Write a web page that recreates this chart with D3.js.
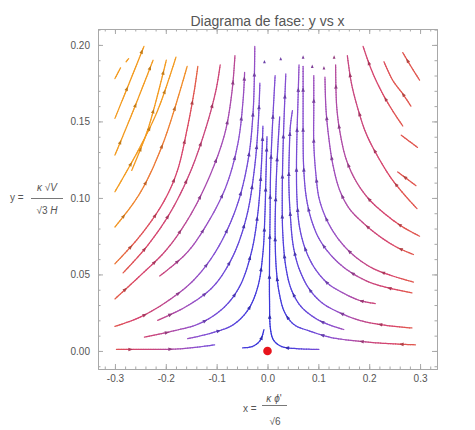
<!DOCTYPE html>
<html>
<head>
<meta charset="utf-8">
<script src="https://cdn.jsdelivr.net/npm/d3@7"></script>
<style>
  body { margin: 0; background: #fff; }
  text { font-family: "Liberation Sans", Arial, sans-serif; }
</style>
</head>
<body>
<div id="chart-area"></div>
<script>
// streamlines, [x, y] in data units, listed in flow direction
const leftLines = [
    [[-0.300, 0.178], [-0.289, 0.185]],
    [[-0.278, 0.189], [-0.273, 0.191]],
    [[-0.300, 0.152], [-0.272, 0.175], [-0.243, 0.199]],
    [[-0.300, 0.128], [-0.264, 0.157], [-0.225, 0.190]],
    [[-0.267, 0.118], [-0.235, 0.145], [-0.199, 0.190]],
    [[-0.300, 0.104], [-0.251, 0.133], [-0.215, 0.158], [-0.180, 0.192]],
    [[-0.300, 0.081], [-0.251, 0.103], [-0.205, 0.136], [-0.158, 0.186]],
    [[-0.300, 0.057], [-0.251, 0.075], [-0.205, 0.097], [-0.178, 0.117], [-0.158, 0.145], [-0.144, 0.170], [-0.137, 0.186]],
    [[-0.284, 0.051], [-0.238, 0.068], [-0.192, 0.090], [-0.153, 0.116], [-0.120, 0.147], [-0.101, 0.171], [-0.093, 0.187]],
    [[-0.300, 0.034], [-0.251, 0.049], [-0.199, 0.066], [-0.153, 0.088], [-0.114, 0.114], [-0.084, 0.142], [-0.070, 0.169], [-0.064, 0.193]],
    [[-0.212, 0.049], [-0.159, 0.064], [-0.117, 0.084], [-0.081, 0.108], [-0.058, 0.136], [-0.048, 0.164], [-0.045, 0.182]],
    [[-0.300, 0.016], [-0.251, 0.022], [-0.199, 0.032], [-0.146, 0.046], [-0.100, 0.066], [-0.061, 0.094], [-0.038, 0.125], [-0.028, 0.158], [-0.025, 0.199]],
    [[-0.216, 0.020], [-0.160, 0.029], [-0.107, 0.042], [-0.068, 0.062], [-0.041, 0.088], [-0.025, 0.121], [-0.018, 0.150], [-0.015, 0.175]],
    [[-0.242, 0.009], [-0.186, 0.013], [-0.133, 0.018], [-0.087, 0.028], [-0.055, 0.042], [-0.032, 0.064], [-0.019, 0.090], [-0.012, 0.121], [-0.009, 0.147]],
    [[-0.157, 0.008], [-0.107, 0.012], [-0.068, 0.017], [-0.038, 0.027], [-0.019, 0.042], [-0.009, 0.064], [-0.005, 0.090], [-0.003, 0.115], [-0.001, 0.140]],
    [[-0.297, 0.001], [-0.231, 0.001], [-0.166, 0.0015], [-0.104, 0.004]]
]

const centerLines = [
    [[-0.049, 0.002], [-0.029, 0.003], [-0.014, 0.007], [-0.007, 0.014]],
    [[0.101, 0.001], [0.057, 0.0015], [0.027, 0.003], [0.012, 0.007], [0.006, 0.014], [0.004, 0.033], [0.004, 0.059], [0.005, 0.087], [0.006, 0.116], [0.009, 0.142], [0.015, 0.180]]
]

const rightLines = [
    [[0.291, 0.004], [0.227, 0.005], [0.161, 0.007], [0.122, 0.009], [0.083, 0.013], [0.053, 0.017], [0.034, 0.025], [0.023, 0.038], [0.017, 0.055], [0.015, 0.077], [0.016, 0.099], [0.019, 0.125], [0.024, 0.153]],
    [[0.150, 0.014], [0.122, 0.017], [0.096, 0.021], [0.066, 0.029], [0.047, 0.040], [0.036, 0.055], [0.030, 0.077], [0.029, 0.099], [0.030, 0.125], [0.032, 0.147], [0.036, 0.181]],
    [[0.284, 0.015], [0.227, 0.017], [0.181, 0.020], [0.142, 0.025], [0.109, 0.031], [0.083, 0.040], [0.063, 0.053], [0.051, 0.068], [0.045, 0.088], [0.042, 0.110], [0.043, 0.132], [0.045, 0.147], [0.049, 0.157]],
    [[0.212, 0.031], [0.181, 0.033], [0.148, 0.038], [0.119, 0.044], [0.093, 0.054], [0.075, 0.066], [0.063, 0.081], [0.058, 0.099], [0.057, 0.121], [0.058, 0.142], [0.060, 0.164], [0.062, 0.187]],
    [[0.284, 0.038], [0.240, 0.041], [0.200, 0.045], [0.161, 0.052], [0.129, 0.061], [0.102, 0.073], [0.086, 0.086], [0.076, 0.101], [0.071, 0.121], [0.070, 0.142], [0.070, 0.164], [0.070, 0.186]],
    [[0.287, 0.045], [0.246, 0.049], [0.207, 0.054], [0.171, 0.062], [0.142, 0.072], [0.119, 0.084], [0.102, 0.099], [0.095, 0.116], [0.091, 0.136], [0.091, 0.158], [0.091, 0.180]],
    [[0.287, 0.063], [0.253, 0.068], [0.220, 0.075], [0.187, 0.084], [0.161, 0.093], [0.142, 0.105], [0.129, 0.121], [0.121, 0.138], [0.115, 0.158], [0.113, 0.179]],
    [[0.299, 0.075], [0.266, 0.081], [0.233, 0.089], [0.200, 0.099], [0.174, 0.111], [0.155, 0.125], [0.143, 0.142], [0.136, 0.160], [0.134, 0.187]],
    [[0.294, 0.093], [0.272, 0.101], [0.243, 0.113], [0.217, 0.127], [0.194, 0.142], [0.178, 0.158], [0.165, 0.175], [0.157, 0.193]],
    [[0.292, 0.108], [0.276, 0.112], [0.256, 0.117]],
    [[0.295, 0.133], [0.279, 0.137], [0.263, 0.141]],
    [[0.266, 0.147], [0.246, 0.157], [0.225, 0.169], [0.204, 0.184], [0.188, 0.199]],
    [[0.282, 0.160], [0.266, 0.168], [0.246, 0.177], [0.229, 0.189]],
    [[0.299, 0.177], [0.282, 0.186], [0.266, 0.195]]
]

// lone arrow heads left at the top of some lines
const stubs = [[-0.006, 0.189], [0.026, 0.191], [0.070, 0.192], [0.088, 0.186], [0.111, 0.185], [0.131, 0.192]]

const fixedPoint = [[0, 0]]

const xTicks = [-0.3, -0.2, -0.1, 0, 0.1, 0.2, 0.3]
const xTickLabels = ["-0.3", "-0.2", "-0.1", "0.0", "0.1", "0.2", "0.3"]
const yTicks = [0, 0.05, 0.1, 0.15, 0.2]
const yTickLabels = ["0.00", "0.05", "0.10", "0.15", "0.20"]

const frame = {left: 98, right: 437, top: 29, bottom: 369}

const svg = d3.select("#chart-area").append("svg")
    .attr("width", 475)
    .attr("height", 430)

const x = d3.scaleLinear().domain([-0.3333, 0.3333]).range([frame.left, frame.right])
const y = d3.scaleLinear().domain([-0.0118, 0.2104]).range([frame.bottom, frame.top])

// colour ramp keyed to a rough speed estimate (slow = blue, fast = orange)
function speed(a, b) {
    const r = Math.hypot(1.4 * a, 0.9 * b)
    if (a < 0) return r + 40 * (-a) * b * b
    return Math.min(r * 1.1, 0.42)
}
const color = d3.scaleLinear()
    .domain([0, 0.07, 0.13, 0.19, 0.25, 0.31, 0.38, 0.43, 0.47, 0.51])
    .range(["#3030d8", "#4a3edc", "#6a48d8", "#8a50d0", "#a84cb0", "#c8467e", "#d8446a", "#e25a48", "#ee8030", "#f39a1e"])
    .clamp(true)

// Frame with inward ticks
const minorX = d3.range(-0.32, 0.3301, 0.02)
const minorY = d3.range(-0.01, 0.2101, 0.01)

function styleAxis(g) {
    g.selectAll("path.domain").attr("stroke", "#a8a8a8")
    g.selectAll(".tick line").attr("stroke", "#a8a8a8")
    g.selectAll(".tick text").attr("fill", "#555").attr("font-size", "10px")
        .attr("font-family", "Liberation Sans, Arial, sans-serif")
}

svg.append("g").attr("transform", `translate(0, ${frame.bottom})`)
    .call(d3.axisBottom(x).tickValues(minorX).tickSize(-2.5).tickSizeOuter(0).tickFormat(""))
    .call(styleAxis)
svg.append("g").attr("transform", `translate(0, ${frame.bottom})`)
    .call(d3.axisBottom(x).tickValues(xTicks).tickSize(-5).tickSizeOuter(0).tickPadding(6)
        .tickFormat((d, i) => xTickLabels[i]))
    .call(styleAxis)
svg.append("g").attr("transform", `translate(0, ${frame.top})`)
    .call(d3.axisTop(x).tickValues(minorX).tickSize(-2.5).tickSizeOuter(0).tickFormat(""))
    .call(styleAxis)
svg.append("g").attr("transform", `translate(0, ${frame.top})`)
    .call(d3.axisTop(x).tickValues(xTicks).tickSize(-5).tickSizeOuter(0).tickFormat(""))
    .call(styleAxis)

svg.append("g").attr("transform", `translate(${frame.left}, 0)`)
    .call(d3.axisLeft(y).tickValues(minorY).tickSize(-2.5).tickSizeOuter(0).tickFormat(""))
    .call(styleAxis)
svg.append("g").attr("transform", `translate(${frame.left}, 0)`)
    .call(d3.axisLeft(y).tickValues(yTicks).tickSize(-5).tickSizeOuter(0).tickPadding(8)
        .tickFormat((d, i) => yTickLabels[i]))
    .call(styleAxis)
svg.append("g").attr("transform", `translate(${frame.right}, 0)`)
    .call(d3.axisRight(y).tickValues(minorY).tickSize(-2.5).tickSizeOuter(0).tickFormat(""))
    .call(styleAxis)
svg.append("g").attr("transform", `translate(${frame.right}, 0)`)
    .call(d3.axisRight(y).tickValues(yTicks).tickSize(-5).tickSizeOuter(0).tickFormat(""))
    .call(styleAxis)

// Streamlines
const line = d3.line()
    .x(d => x(d[0]))
    .y(d => y(d[1]))
    .curve(d3.curveCatmullRom.alpha(0.5))

const plot = svg.append("g")
const probe = svg.append("path").attr("fill", "none").attr("stroke", "none")
const arrowShape = "M2.4,0 L-2.1,-1.8 L-2.1,1.8 Z"

const allLines = leftLines.concat(centerLines, rightLines)

allLines.forEach((pts, i) => {
    probe.attr("d", line(pts))
    const node = probe.node()
    const len = node.getTotalLength()
    const n = Math.max(2, Math.ceil(len / 2.5))
    const samples = d3.range(n + 1).map(k => node.getPointAtLength(len * k / n))

    const g = plot.append("g").attr("class", "stream")
    for (let k = 0; k < n; k++) {
        const a = samples[k], b = samples[k + 1]
        const mx = (a.x + b.x) / 2, my = (a.y + b.y) / 2
        g.append("line")
            .attr("x1", a.x).attr("y1", a.y)
            .attr("x2", b.x).attr("y2", b.y)
            .attr("stroke", color(speed(x.invert(mx), y.invert(my))))
            .attr("stroke-width", 1.25)
            .attr("stroke-linecap", "round")
    }

    for (let s = 14 + (i % 3) * 9; s < len - 5; s += 40) {
        const p = node.getPointAtLength(s)
        const q = node.getPointAtLength(Math.min(len, s + 1))
        const ang = Math.atan2(q.y - p.y, q.x - p.x) * 180 / Math.PI
        const c = d3.color(color(speed(x.invert(p.x), y.invert(p.y)))).darker(0.6)
        g.append("path")
            .attr("d", arrowShape)
            .attr("fill", c)
            .attr("transform", `translate(${p.x},${p.y}) rotate(${ang})`)
    }
})
probe.remove()

plot.selectAll("path.stub").data(stubs).enter()
    .append("path")
    .attr("class", "stub")
    .attr("d", "M1.8,0 L-1.6,-1.4 L-1.6,1.4 Z")
    .attr("fill", d => d3.color(color(speed(d[0], d[1]))).darker(0.6))
    .attr("transform", d => `translate(${x(d[0])},${y(d[1])}) rotate(-90)`)

svg.selectAll("circle.fixed").data(fixedPoint).enter()
    .append("circle")
    .attr("class", "fixed")
    .attr("cx", d => x(d[0]))
    .attr("cy", d => y(d[1]))
    .attr("r", 4.3)
    .attr("fill", "#e8141c")

// Title
svg.append("text")
    .attr("x", 267.5)
    .attr("y", 25.5)
    .attr("text-anchor", "middle")
    .attr("font-size", "14px")
    .attr("fill", "#555")
    .text("Diagrama de fase: y vs x")

// Y label: y = κ√V / (√3 H)
const yl = svg.append("g").attr("fill", "#555").attr("font-size", "10px")
yl.append("text").attr("x", 10).attr("y", 201).text("y =")
const yNum = yl.append("text").attr("x", 47).attr("y", 190.5).attr("text-anchor", "middle")
yNum.append("tspan").attr("font-style", "italic").text("κ")
yNum.append("tspan").text(" √")
yNum.append("tspan").attr("font-style", "italic").text("V")
yl.append("line").attr("x1", 31).attr("x2", 63).attr("y1", 198.5).attr("y2", 198.5)
    .attr("stroke", "#555").attr("stroke-width", 0.8)
const yDen = yl.append("text").attr("x", 47).attr("y", 214).attr("text-anchor", "middle")
yDen.append("tspan").text("√3 ")
yDen.append("tspan").attr("font-style", "italic").text("H")

// X label: x = κφ' / √6
const xl = svg.append("g").attr("fill", "#555").attr("font-size", "10px")
xl.append("text").attr("x", 243).attr("y", 411.5).text("x =")
const xNum = xl.append("text").attr("x", 274).attr("y", 401.5).attr("text-anchor", "middle")
xNum.append("tspan").attr("font-style", "italic").text("κ")
xNum.append("tspan").text(" ")
xNum.append("tspan").attr("font-style", "italic").text("ϕ")
xNum.append("tspan").text("'")
xl.append("line").attr("x1", 262).attr("x2", 287).attr("y1", 405.5).attr("y2", 405.5)
    .attr("stroke", "#555").attr("stroke-width", 0.8)
xl.append("text").attr("x", 275).attr("y", 424.5).attr("text-anchor", "middle").text("√6")
</script>
</body>
</html>
